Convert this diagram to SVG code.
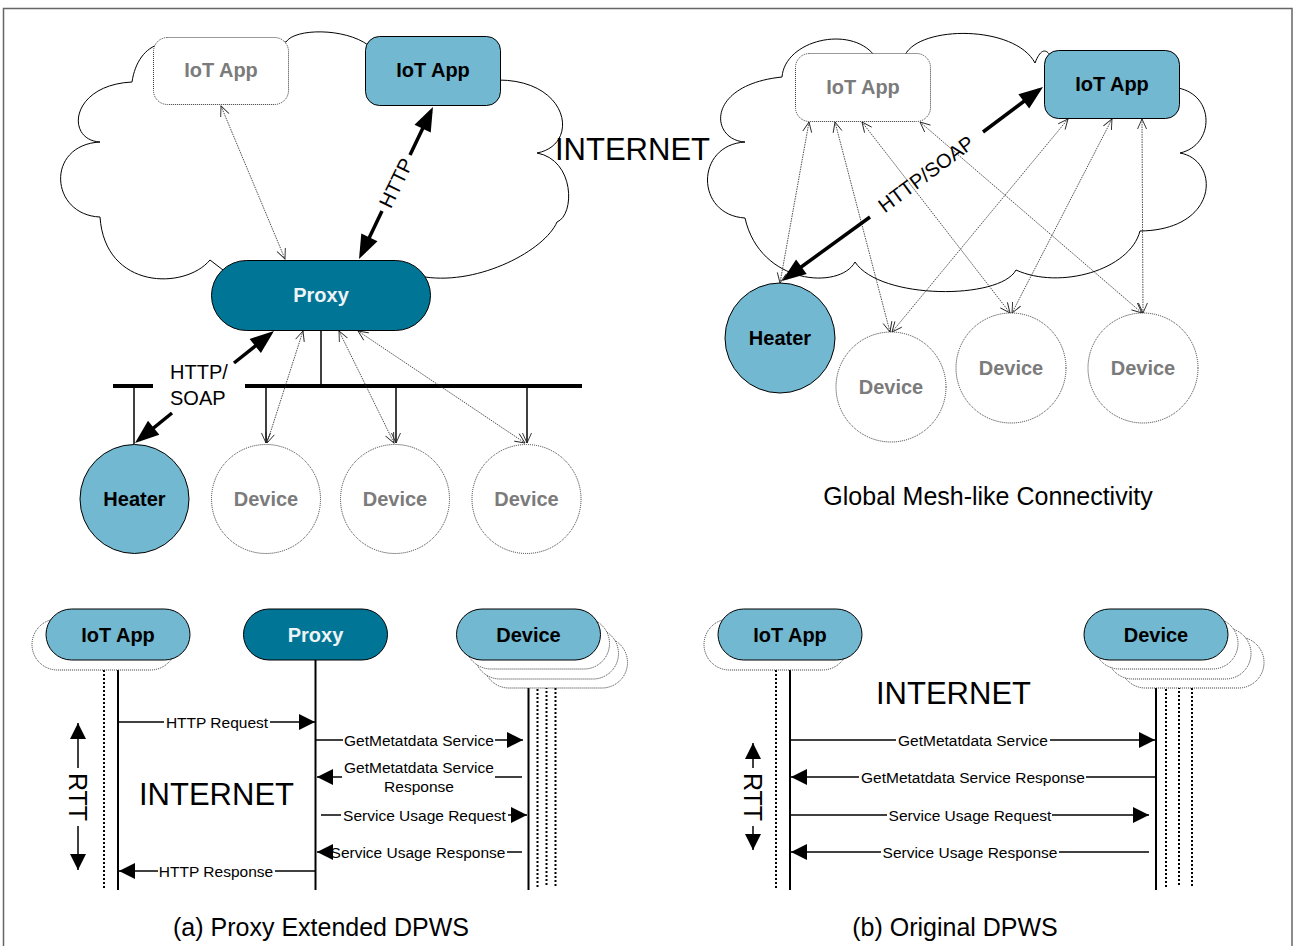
<svg xmlns="http://www.w3.org/2000/svg" width="1294" height="946" viewBox="0 0 1294 946">
<defs>
<style>
text { font-family: "Liberation Sans", Arial, sans-serif; }
.lbl { font-size: 20px; font-weight: bold; text-anchor: middle; }
.blk { fill: #000; }
.gry { fill: #7b7b7b; }
.wht { fill: #eef3f5; }
.msg { font-size: 15.5px; text-anchor: middle; fill: #000; }
.mid { font-size: 20px; fill: #000; }
.big { font-size: 31px; fill: #000; }
.cap { font-size: 25px; text-anchor: middle; fill: #000; }
.cloud { fill: #fff; stroke: #000; stroke-width: 1; }
.lb { fill: #71b8d0; stroke: #000; stroke-width: 1; }
.dk { fill: #007595; stroke: #000; stroke-width: 1; }
.dot { fill: #fff; stroke: #333; stroke-width: 1; stroke-dasharray: 1 1; }
.thick { stroke: #000; stroke-width: 3.5; fill: none; }
.thin { stroke: #222; stroke-width: 0.8; stroke-dasharray: 1.5 1; fill: none; }
.drop { stroke: #000; stroke-width: 1.5; fill: none; }
.bus { stroke: #000; stroke-width: 4; }
.seq { stroke: #000; stroke-width: 1.5; fill: none; }
.life { stroke: #000; stroke-width: 2; }
.lifed { stroke: #000; stroke-width: 2; stroke-dasharray: 2 2; }
</style>
<marker id="bigA" markerUnits="userSpaceOnUse" markerWidth="26" markerHeight="20" refX="19" refY="9" orient="auto-start-reverse" overflow="visible"><path d="M0,0 L24,9 L0,18 z" fill="#000"/></marker>
<marker id="seqA" markerUnits="userSpaceOnUse" markerWidth="17" markerHeight="17" refX="16" refY="8" orient="auto-start-reverse" overflow="visible"><path d="M0,0 L16,8 L0,16 z" fill="#000"/></marker>
<marker id="openA" markerUnits="userSpaceOnUse" markerWidth="12" markerHeight="12" refX="10" refY="4.5" orient="auto-start-reverse" overflow="visible"><path d="M0,0 L10,4.5 L0,9" fill="none" stroke="#222" stroke-width="0.9"/></marker>
</defs>

<rect x="3.5" y="8.5" width="1288.5" height="950" fill="#fff" stroke="#666" stroke-width="1.5"/>

<g id="clouds">
<path class="cloud" d="M100,217 C50,215 45,145 100,142 C65,140 70,85 132,82 C135,62 145,48 160,44 L286,42 C295,28 345,28 368,45 L498,80 C570,80 580,145 537,153 C575,160 575,215 557,222 C545,250 480,285 425,277 L410,290 L240,290 L223,270 L210,260 C185,290 105,290 100,217 Z"/>
<path class="cloud" d="M745,218 C695,215 695,145 745,142 C710,140 705,85 782,77 C785,40 850,25 874,55 L905,55 C920,25 1015,25 1035,63 C1040,50 1045,48 1050,55 L1178,88 C1215,95 1215,145 1180,153 C1220,160 1220,230 1140,231 C1130,270 1060,290 1016,270 C1000,300 880,300 855,262 C840,290 760,285 745,218 Z"/>
</g>

<g id="connectors">
<line class="bus" x1="113" y1="386" x2="153" y2="386"/>
<line class="bus" x1="245" y1="386" x2="582" y2="386"/>
<line class="drop" x1="321" y1="330" x2="321" y2="386"/>
<line class="drop" x1="134" y1="386" x2="134" y2="444"/>
<line class="drop" x1="266" y1="387" x2="266" y2="443" marker-end="url(#openA)"/>
<line class="drop" x1="396" y1="387" x2="396" y2="443" marker-end="url(#openA)"/>
<line class="drop" x1="527" y1="387" x2="527" y2="443" marker-end="url(#openA)"/>
<line class="thin" x1="221" y1="106" x2="285" y2="259" marker-start="url(#openA)" marker-end="url(#openA)"/>
<line class="thin" x1="303" y1="331" x2="267" y2="443" marker-start="url(#openA)" marker-end="url(#openA)"/>
<line class="thin" x1="339" y1="331" x2="394" y2="443" marker-start="url(#openA)" marker-end="url(#openA)"/>
<line class="thin" x1="358" y1="331" x2="525" y2="443" marker-start="url(#openA)" marker-end="url(#openA)"/>
<line class="thick" x1="382" y1="211" x2="361.2" y2="254.5" marker-end="url(#bigA)"/>
<line class="thick" x1="410" y1="155" x2="430.8" y2="111.5" marker-end="url(#bigA)"/>
<text class="mid" text-anchor="middle" transform="translate(396,183) rotate(-64)" x="0" y="7">HTTP</text>
<line class="thick" x1="234" y1="363" x2="270.1" y2="334.1" marker-end="url(#bigA)"/>
<line class="thick" x1="172" y1="413" x2="138.9" y2="439.8" marker-end="url(#bigA)"/>
<text class="mid" x="170" y="379">HTTP/</text>
<text class="mid" x="170" y="405">SOAP</text>
<line class="thin" x1="809" y1="122" x2="780" y2="283" marker-start="url(#openA)" marker-end="url(#openA)"/>
<line class="thin" x1="835" y1="122" x2="890" y2="332" marker-start="url(#openA)" marker-end="url(#openA)"/>
<line class="thin" x1="862" y1="122" x2="1010" y2="313" marker-start="url(#openA)" marker-end="url(#openA)"/>
<line class="thin" x1="920" y1="122" x2="1142" y2="313" marker-start="url(#openA)" marker-end="url(#openA)"/>
<line class="thin" x1="1068" y1="119" x2="892" y2="332" marker-start="url(#openA)" marker-end="url(#openA)"/>
<line class="thin" x1="1112" y1="119" x2="1012" y2="313" marker-start="url(#openA)" marker-end="url(#openA)"/>
<line class="thin" x1="1142" y1="119" x2="1143" y2="313" marker-start="url(#openA)" marker-end="url(#openA)"/>
<line class="thick" x1="870" y1="217" x2="786" y2="278" marker-end="url(#bigA)"/>
<line class="thick" x1="983" y1="132" x2="1039" y2="90" marker-end="url(#bigA)"/>
<text class="mid" text-anchor="middle" transform="translate(926,174) rotate(-36.6)" x="0" y="7">HTTP/SOAP</text>

<line class="lifed" x1="104" y1="670" x2="104" y2="888"/>
<line class="life" x1="118" y1="660" x2="118" y2="890"/>
<line class="life" x1="315.5" y1="660" x2="315.5" y2="890"/>
<line class="life" x1="528.5" y1="660" x2="528.5" y2="890"/>
<line class="lifed" x1="537.5" y1="669" x2="537.5" y2="887"/>
<line class="lifed" x1="546.5" y1="679" x2="546.5" y2="887"/>
<line class="lifed" x1="555.5" y1="688" x2="555.5" y2="887"/>
<line class="seq" x1="118" y1="722" x2="164" y2="722"/>
<line class="seq" x1="270" y1="722" x2="315" y2="722" marker-end="url(#seqA)"/>
<text class="msg" x="217" y="727.5">HTTP Request</text>
<line class="seq" x1="316" y1="740" x2="343" y2="740"/>
<line class="seq" x1="495" y1="740" x2="523" y2="740" marker-end="url(#seqA)"/>
<text class="msg" x="419" y="745.5">GetMetatdata Service</text>
<line class="seq" x1="522" y1="777" x2="495" y2="777"/>
<line class="seq" x1="342" y1="777" x2="317" y2="777" marker-end="url(#seqA)"/>
<text class="msg" x="419" y="773">GetMetatdata Service</text>
<text class="msg" x="419" y="792">Response</text>
<line class="seq" x1="321" y1="815" x2="341" y2="815"/>
<line class="seq" x1="508" y1="815" x2="527" y2="815" marker-end="url(#seqA)"/>
<text class="msg" x="424.5" y="820.5">Service Usage Request</text>
<line class="seq" x1="522" y1="852" x2="507" y2="852"/>
<line class="seq" x1="333" y1="852" x2="317" y2="852" marker-end="url(#seqA)"/>
<text class="msg" x="418" y="857.5">Service Usage Response</text>
<line class="seq" x1="315" y1="871" x2="275" y2="871"/>
<line class="seq" x1="158" y1="871" x2="119" y2="871" marker-end="url(#seqA)"/>
<text class="msg" x="216" y="876.5">HTTP Response</text>
<line class="seq" x1="78" y1="768" x2="78" y2="723" marker-end="url(#seqA)"/>
<line class="seq" x1="78" y1="826" x2="78" y2="870" marker-end="url(#seqA)"/>
<text class="cap" transform="translate(78,797) rotate(90)" x="0" y="9">RTT</text>

<line class="lifed" x1="776" y1="670" x2="776" y2="888"/>
<line class="life" x1="790" y1="660" x2="790" y2="890"/>
<line class="life" x1="1156" y1="660" x2="1156" y2="890"/>
<line class="lifed" x1="1166" y1="669" x2="1166" y2="887"/>
<line class="lifed" x1="1179" y1="679" x2="1179" y2="887"/>
<line class="lifed" x1="1192" y1="688" x2="1192" y2="887"/>
<line class="seq" x1="790" y1="740" x2="896" y2="740"/>
<line class="seq" x1="1050" y1="740" x2="1155" y2="740" marker-end="url(#seqA)"/>
<text class="msg" x="973" y="745.5">GetMetatdata Service</text>
<line class="seq" x1="1156" y1="777" x2="1086" y2="777"/>
<line class="seq" x1="859" y1="777" x2="791" y2="777" marker-end="url(#seqA)"/>
<text class="msg" x="973" y="782.5">GetMetatdata Service Response</text>
<line class="seq" x1="790" y1="815" x2="887" y2="815"/>
<line class="seq" x1="1052" y1="815" x2="1149" y2="815" marker-end="url(#seqA)"/>
<text class="msg" x="970" y="820.5">Service Usage Request</text>
<line class="seq" x1="1149" y1="852" x2="1059" y2="852"/>
<line class="seq" x1="881" y1="852" x2="791" y2="852" marker-end="url(#seqA)"/>
<text class="msg" x="970" y="857.5">Service Usage Response</text>
<line class="seq" x1="753" y1="768" x2="753" y2="743" marker-end="url(#seqA)"/>
<line class="seq" x1="753" y1="826" x2="753" y2="850" marker-end="url(#seqA)"/>
<text class="cap" transform="translate(753,797) rotate(90)" x="0" y="9">RTT</text>
</g>

<g id="tl-iotapp-remote">
<rect class="dot" x="153.5" y="37.5" width="135" height="67" rx="14"/>
<text class="lbl gry" x="221" y="77">IoT App</text>
</g>
<g id="tl-iotapp">
<rect class="lb" x="365.5" y="36.5" width="135" height="69" rx="14"/>
<text class="lbl blk" x="433" y="77">IoT App</text>
</g>
<g id="tl-proxy">
<rect class="dk" x="211.5" y="260.5" width="219" height="70" rx="35"/>
<text class="lbl wht" x="321" y="302">Proxy</text>
</g>
<g id="tl-heater">
<circle class="lb" cx="134.5" cy="499" r="54.5"/>
<text class="lbl blk" x="134.5" y="506">Heater</text>
</g>
<g id="tl-device1">
<circle class="dot" cx="266" cy="499" r="54.5"/>
<text class="lbl gry" x="266" y="506">Device</text>
</g>
<g id="tl-device2">
<circle class="dot" cx="395" cy="499" r="54.5"/>
<text class="lbl gry" x="395" y="506">Device</text>
</g>
<g id="tl-device3">
<circle class="dot" cx="526.5" cy="499" r="54.5"/>
<text class="lbl gry" x="526.5" y="506">Device</text>
</g>

<g id="tr-iotapp-remote">
<rect class="dot" x="795.5" y="53.5" width="135" height="68" rx="14"/>
<text class="lbl gry" x="863" y="94">IoT App</text>
</g>
<g id="tr-iotapp">
<rect class="lb" x="1044.5" y="50.5" width="135" height="68" rx="14"/>
<text class="lbl blk" x="1112" y="91">IoT App</text>
</g>
<g id="tr-heater">
<circle class="lb" cx="780" cy="338" r="55"/>
<text class="lbl blk" x="780" y="345">Heater</text>
</g>
<g id="tr-device1">
<circle class="dot" cx="891" cy="387" r="55"/>
<text class="lbl gry" x="891" y="394">Device</text>
</g>
<g id="tr-device2">
<circle class="dot" cx="1011" cy="368" r="55"/>
<text class="lbl gry" x="1011" y="375">Device</text>
</g>
<g id="tr-device3">
<circle class="dot" cx="1143" cy="368" r="55"/>
<text class="lbl gry" x="1143" y="375">Device</text>
</g>

<g id="sa-iotapp">
<rect class="dot" x="32" y="619" width="144" height="51" rx="25.5"/>
<rect class="lb" x="46" y="609" width="144" height="51" rx="25.5"/>
<text class="lbl blk" x="118" y="641.5">IoT App</text>
</g>
<g id="sa-proxy">
<rect class="dk" x="243.5" y="609" width="144" height="51" rx="25.5"/>
<text class="lbl wht" x="315.5" y="641.5">Proxy</text>
</g>
<g id="sa-device">
<rect class="dot" x="483.5" y="637" width="144" height="51" rx="25.5"/>
<rect class="dot" x="474.5" y="628" width="144" height="51" rx="25.5"/>
<rect class="dot" x="465.5" y="618" width="144" height="51" rx="25.5"/>
<rect class="lb" x="456.5" y="609" width="144" height="51" rx="25.5"/>
<text class="lbl blk" x="528.5" y="641.5">Device</text>
</g>

<g id="sb-iotapp">
<rect class="dot" x="704" y="619" width="144" height="51" rx="25.5"/>
<rect class="lb" x="718" y="609" width="144" height="51" rx="25.5"/>
<text class="lbl blk" x="790" y="641.5">IoT App</text>
</g>
<g id="sb-device">
<rect class="dot" x="1120" y="637" width="144" height="51" rx="25.5"/>
<rect class="dot" x="1107" y="628" width="144" height="51" rx="25.5"/>
<rect class="dot" x="1094" y="618" width="144" height="51" rx="25.5"/>
<rect class="lb" x="1084" y="609" width="144" height="51" rx="25.5"/>
<text class="lbl blk" x="1156" y="641.5">Device</text>
</g>

<g id="labels">
<text class="big" x="555" y="160">INTERNET</text>
<text class="big" x="139" y="805">INTERNET</text>
<text class="big" x="876" y="704">INTERNET</text>
<text class="cap" x="988" y="505">Global Mesh-like Connectivity</text>
<text class="cap" x="321" y="936">(a) Proxy Extended DPWS</text>
<text class="cap" x="955" y="936">(b) Original DPWS</text>
</g>
</svg>
